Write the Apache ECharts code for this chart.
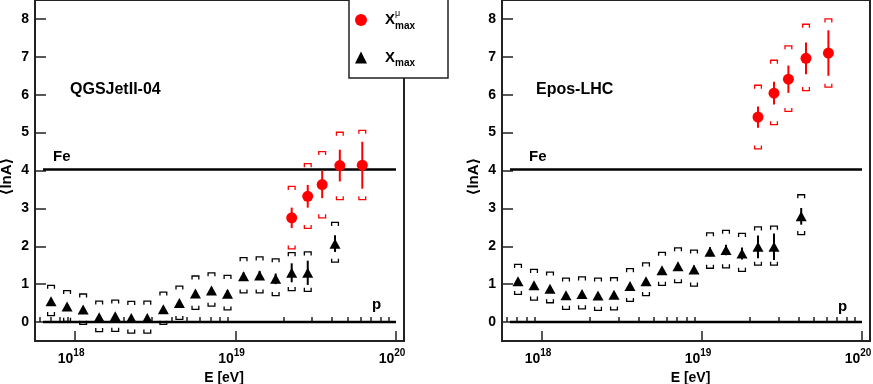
<!DOCTYPE html>
<html><head><meta charset="utf-8">
<script src="https://cdn.jsdelivr.net/npm/echarts@6/dist/echarts.min.js"></script>
<style>html,body{margin:0;padding:0;background:#fff}#c{width:873px;height:384px}</style>
</head><body><div id="c"></div>
<script>
// ---- data (x = log10(E/eV)) ----
const logE = [17.85,17.95,18.05,18.15,18.25,18.35,18.45,18.55,18.65,18.75,18.85,18.95,19.05,19.15,19.25,19.35,19.45,19.62];
const logEmu = [19.35,19.45,19.54,19.65,19.79];

const qgsXmax      = [0.55,0.41,0.33,0.13,0.15,0.11,0.11,0.335,0.50,0.755,0.83,0.75,1.21,1.23,1.14,1.30,1.30,2.07];
const qgsXmaxStat  = [0.05,0.05,0.05,0.05,0.05,0.05,0.05,0.05,0.06,0.07,0.08,0.09,0.10,0.12,0.14,0.25,0.32,0.22];
const qgsXmaxSysLo = [0.17,0.02,-0.06,-0.25,-0.245,-0.29,-0.29,-0.06,0.07,0.335,0.42,0.32,0.77,0.77,0.70,0.83,0.81,1.58];
const qgsXmaxSysHi = [0.97,0.83,0.74,0.555,0.58,0.545,0.55,0.79,0.95,1.215,1.30,1.23,1.70,1.72,1.67,1.83,1.85,2.63];

const qgsMu      = [2.75,3.32,3.63,4.13,4.14];
const qgsMuStat  = [0.27,0.30,0.36,0.42,0.62];
const qgsMuSysLo = [1.93,2.47,2.75,3.23,3.23];
const qgsMuSysHi = [3.58,4.18,4.50,5.01,5.06];

const eposXmax      = [1.08,0.97,0.88,0.71,0.74,0.70,0.72,0.95,1.08,1.37,1.475,1.39,1.855,1.90,1.81,1.985,1.99,2.79];
const eposXmaxStat  = [0.05,0.05,0.05,0.05,0.05,0.05,0.05,0.06,0.07,0.08,0.09,0.10,0.12,0.14,0.16,0.30,0.35,0.22];
const eposXmaxSysLo = [0.73,0.58,0.51,0.335,0.35,0.31,0.32,0.545,0.70,0.97,1.04,0.95,1.42,1.43,1.34,1.50,1.50,2.31];
const eposXmaxSysHi = [1.52,1.39,1.32,1.16,1.19,1.16,1.17,1.41,1.56,1.84,1.96,1.90,2.355,2.42,2.34,2.51,2.53,3.36];

const eposMu      = [5.41,6.04,6.41,6.96,7.10];
const eposMuStat  = [0.28,0.30,0.36,0.42,0.60];
const eposMuSysLo = [4.57,5.21,5.56,6.11,6.20];
const eposMuSysHi = [6.25,6.91,7.29,7.86,8.00];

const refLineX = [17.8, 20];
const lnA_Fe = 4.025;
const lnA_p = 0;

const majorTickDecades = [18, 19, 20];
const minorTickMultipliers = [[17,[6,7,8,9]],[18,[2,3,4,5,6,7,8,9]],[19,[2,3,4,5,6,7,8,9]]];
const yTickValues = [0,1,2,3,4,5,6,7,8];

const minorTickValues = [];
minorTickMultipliers.forEach(([d, ks]) => ks.forEach(k => minorTickValues.push(d + Math.log10(k))));

const FONT = '"Liberation Sans", Arial, "DejaVu Sans", sans-serif';
const AX = '#222';

function errRender(color) {
  return function (params, api) {
    const x = api.value(0), y = api.value(1), st = api.value(2), lo = api.value(3), hi = api.value(4);
    const pA = api.coord([x, y + st]), pB = api.coord([x, y - st]);
    const pH = api.coord([x, hi]), pL = api.coord([x, lo]);
    const w = 3.4, h = 3.5;
    return { type: 'group', children: [
      { type: 'line', shape: { x1: pA[0], y1: pA[1], x2: pB[0], y2: pB[1] }, style: { stroke: color, lineWidth: 2 } },
      { type: 'polyline', shape: { points: [[pH[0]-w, pH[1]+h],[pH[0]-w, pH[1]],[pH[0]+w, pH[1]],[pH[0]+w, pH[1]+h]] }, style: { stroke: color, lineWidth: 1.3, fill: null } },
      { type: 'polyline', shape: { points: [[pL[0]-w, pL[1]-h],[pL[0]-w, pL[1]],[pL[0]+w, pL[1]],[pL[0]+w, pL[1]-h]] }, style: { stroke: color, lineWidth: 1.3, fill: null } }
    ]};
  };
}
function zip(xs, ys, st, lo, hi) { return xs.map((x, i) => [x, ys[i], st[i], lo[i], hi[i]]); }

function xAxes(grid) {
  return [{
    type: 'value', gridIndex: grid, min: 17.75, max: 20.05, position: 'bottom',
    axisLine: { show: true, onZero: false, lineStyle: { color: AX, width: 2 } },
    axisTick: { show: true, inside: true, length: 10, customValues: majorTickDecades, lineStyle: { color: AX, width: 1.5 } },
    axisLabel: { show: true, customValues: majorTickDecades, margin: 7, padding: [0, 8, 0, 0],
      formatter: v => '{b|10}{s|' + Math.round(v) + '}',
      rich: {
        b: { fontSize: 14, fontWeight: 'bold', fontFamily: FONT, color: '#000', verticalAlign: 'bottom', lineHeight: 18 },
        s: { fontSize: 10, fontWeight: 'bold', fontFamily: FONT, color: '#000', verticalAlign: 'top', lineHeight: 18 }
      } },
    splitLine: { show: false },
    name: 'E [eV]', nameLocation: 'middle', nameGap: 28,
    nameTextStyle: { fontSize: 14, fontWeight: 'bold', fontFamily: FONT, color: '#000', padding: [0, 0, 0, 9] }
  }, {
    type: 'value', gridIndex: grid, min: 17.75, max: 20.05, position: 'bottom',
    axisLine: { show: false },
    axisTick: { show: true, inside: true, length: 5, customValues: minorTickValues, lineStyle: { color: AX, width: 1.5 } },
    axisLabel: { show: false }, splitLine: { show: false }
  }];
}
function yAxis(grid) {
  return {
    type: 'value', gridIndex: grid, min: -0.5, max: 8.5,
    axisLine: { show: true, onZero: false, lineStyle: { color: AX, width: 2 } },
    axisTick: { show: true, inside: true, length: 11, customValues: yTickValues, lineStyle: { color: AX, width: 1.5 } },
    axisLabel: { show: true, customValues: yTickValues, margin: 6, fontSize: 14, fontWeight: 'bold', fontFamily: FONT, color: '#000' },
    splitLine: { show: false },
    name: '\u27E8lnA\u27E9', nameLocation: 'middle', nameGap: 21, nameRotate: 90,
    nameTextStyle: { fontSize: 15, fontWeight: 'bold', fontFamily: FONT, color: '#000', padding: [0, 12, 0, 0] }
  };
}
function panelSeries(xi, yi, xm, xmSt, xmLo, xmHi, mu, muSt, muLo, muHi) {
  return [
    { type: 'line', xAxisIndex: xi, yAxisIndex: yi, data: refLineX.map(x => [x, lnA_Fe]), symbol: 'none', lineStyle: { color: '#000', width: 2.5 }, z: 1, silent: true, animation: false },
    { type: 'line', xAxisIndex: xi, yAxisIndex: yi, data: refLineX.map(x => [x, lnA_p]), symbol: 'none', lineStyle: { color: '#000', width: 2.5 }, z: 1, silent: true, animation: false },
    { type: 'custom', xAxisIndex: xi, yAxisIndex: yi, renderItem: errRender('#000'), data: zip(logE, xm, xmSt, xmLo, xmHi), z: 2, clip: false, silent: true },
    { type: 'custom', xAxisIndex: xi, yAxisIndex: yi, renderItem: errRender('#ff0000'), data: zip(logEmu, mu, muSt, muLo, muHi), z: 2, clip: false, silent: true },
    { type: 'scatter', name: 'xmax', xAxisIndex: xi, yAxisIndex: yi, symbol: 'triangle', symbolSize: [11, 10], itemStyle: { color: '#000', opacity: 1 }, data: logE.map((x, i) => [x, xm[i]]), z: 3, silent: true },
    { type: 'scatter', name: 'mu', xAxisIndex: xi, yAxisIndex: yi, symbol: 'circle', symbolSize: 11, itemStyle: { color: '#ff0000', opacity: 1 }, data: logEmu.map((x, i) => [x, mu[i]]), z: 4, silent: true }
  ];
}
function txt(x, y, s, size) {
  return { type: 'text', x: x, y: y, z: 20, style: { text: s, fontSize: size, fontWeight: 'bold', fontFamily: FONT, fill: '#000', align: 'left', verticalAlign: 'middle', textAlign: 'left', textVerticalAlign: 'middle' } };
}

const chart = echarts.init(document.getElementById('c'), null, { renderer: 'canvas' });
chart.setOption({
  animation: false,
  backgroundColor: '#fff',
  grid: [
    { left: 35, top: 0, width: 369, height: 341, show: true, borderColor: AX, borderWidth: 2, backgroundColor: 'transparent', containLabel: false, outerBoundsMode: 'none' },
    { left: 502, top: 0, width: 368, height: 341, show: true, borderColor: AX, borderWidth: 2, backgroundColor: 'transparent', containLabel: false, outerBoundsMode: 'none' }
  ],
  xAxis: [...xAxes(0), ...xAxes(1)],
  yAxis: [yAxis(0), yAxis(1)],
  legend: {
    show: true, orient: 'vertical', left: 355, top: 9, padding: 0, itemGap: 19, itemWidth: 12, itemHeight: 12,
    selectedMode: false, z: 30,
    data: [{ name: 'mu', icon: 'circle' }, { name: 'xmax', icon: 'triangle' }],
    formatter: n => n === 'mu' ? '{x|X}{u|\u03BC}{m|max}' : '{x|X}{m|max}',
    textStyle: { rich: {
      x: { fontSize: 15, fontWeight: 'bold', fontFamily: FONT, color: '#000', padding: [0, 0, 0, 13], lineHeight: 22, verticalAlign: 'middle' },
      u: { fontSize: 9, fontFamily: FONT, color: '#000', width: 0, lineHeight: 22, verticalAlign: 'top' },
      m: { fontSize: 10, fontWeight: 'bold', fontFamily: FONT, color: '#000', lineHeight: 22, verticalAlign: 'bottom' }
    } }
  },
  graphic: [
    { type: 'rect', z: 10, shape: { x: 349, y: -1, width: 99, height: 79 }, style: { fill: '#fff', stroke: AX, lineWidth: 1.5 } },
    txt(70, 90, 'QGSJetII-04', 16),
    txt(536, 90, 'Epos-LHC', 16),
    txt(53, 157, 'Fe', 15),
    txt(372, 304.5, 'p', 15),
    txt(529, 157, 'Fe', 15),
    txt(838, 307, 'p', 15)
  ],
  series: [
    ...panelSeries(0, 0, qgsXmax, qgsXmaxStat, qgsXmaxSysLo, qgsXmaxSysHi, qgsMu, qgsMuStat, qgsMuSysLo, qgsMuSysHi),
    ...panelSeries(2, 1, eposXmax, eposXmaxStat, eposXmaxSysLo, eposXmaxSysHi, eposMu, eposMuStat, eposMuSysLo, eposMuSysHi)
  ]
});
</script></body></html>
